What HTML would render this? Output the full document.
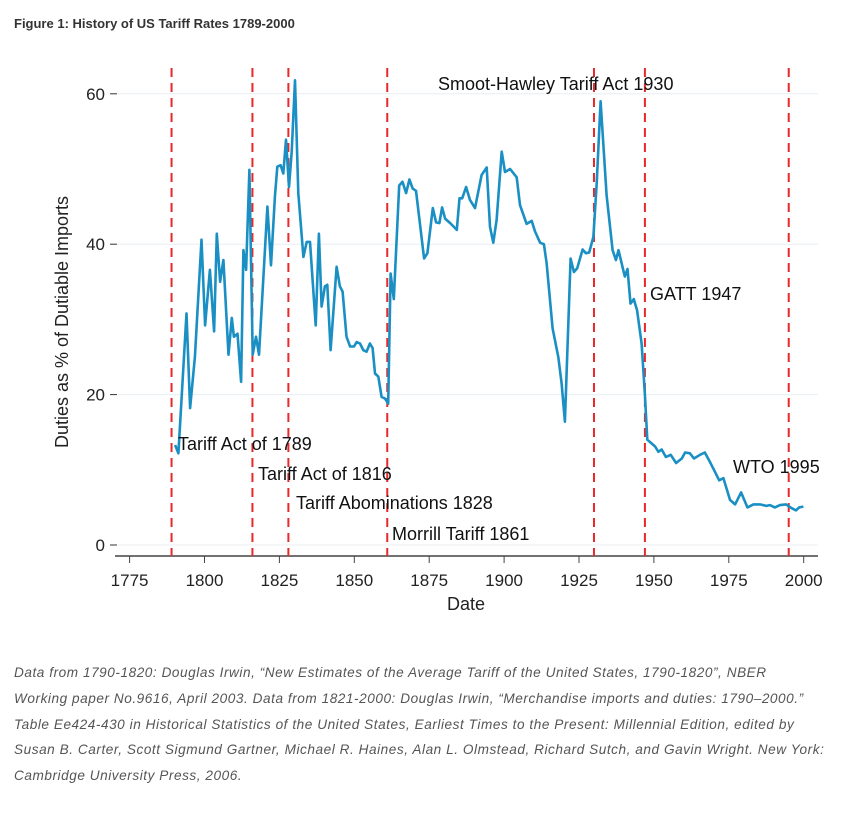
<!DOCTYPE html>
<html><head><meta charset="utf-8"><style>
body{margin:0;background:#fff;width:858px;height:813px;overflow:hidden;font-family:"Liberation Sans",sans-serif}
#title{position:absolute;left:14px;top:16px;font-size:13px;font-weight:bold;color:#333}
#note{position:absolute;left:14px;top:660px;font-size:13.6px;font-style:italic;color:#555;line-height:25.8px;letter-spacing:0.55px;white-space:nowrap}
svg{position:absolute;left:0;top:0}
</style></head><body>
<div id="title">Figure 1: History of US Tariff Rates 1789-2000</div>
<svg id="chart" width="858" height="650"></svg>
<div id="note">Data from 1790-1820: Douglas Irwin, “New Estimates of the Average Tariff of the United States, 1790-1820”, NBER<br>Working paper No.9616, April 2003. Data from 1821-2000: Douglas Irwin, “Merchandise imports and duties: 1790–2000.”<br>Table Ee424-430 in Historical Statistics of the United States, Earliest Times to the Present: Millennial Edition, edited by<br>Susan B. Carter, Scott Sigmund Gartner, Michael R. Haines, Alan L. Olmstead, Richard Sutch, and Gavin Wright. New York:<br>Cambridge University Press, 2006.</div>
<script>
const years=[1790.2,1791.3,1794,1795.2,1796.8,1799,1800.2,1801.8,1803.2,1804.1,1805.2,1806.3,1808,1809.1,1809.8,1811,1812.2,1813,1813.9,1815,1816.1,1817.2,1818.2,1821,1822.2,1823.5,1824.3,1825.4,1826.3,1827.2,1828.2,1829.1,1830.2,1831.3,1833,1834.1,1835.2,1837.1,1838.2,1839.1,1840.2,1841,1842.1,1844.1,1845.2,1846.1,1847.4,1848.6,1849.9,1850.8,1851.9,1853,1854.1,1855.2,1856.1,1856.9,1858,1859.1,1860.2,1861.3,1862.1,1863.2,1865,1866.1,1867.3,1868.4,1869.5,1870.6,1873.3,1874.4,1876.2,1877.3,1878.4,1879.3,1880.3,1882,1884.2,1885.1,1886,1887.3,1888.6,1890.3,1892.5,1894.2,1895.3,1896.4,1897.5,1899.2,1900.3,1902,1904.2,1905.3,1907.5,1909.2,1910.3,1912,1913.3,1914.2,1916.2,1918.1,1919.2,1920.3,1922.2,1923.3,1924.4,1926.2,1927.3,1928.4,1929.8,1930.9,1932.2,1934.2,1936.2,1937.3,1938.2,1940.3,1941.2,1942.2,1943.3,1944.4,1945.9,1947,1947.8,1950.4,1951.5,1952.6,1954,1955.6,1957.4,1959.3,1960.4,1962,1963.4,1965.4,1967,1968.5,1969.8,1971.8,1973.2,1975.4,1977.1,1979.1,1981.2,1983.2,1985.4,1987.6,1988.7,1990.4,1992.1,1994.1,1996,1997.4,1998.5,1999.9];
const rates=[13.3,12.2,30.8,18.2,25,40.6,29.2,36.6,28.4,41.4,35,37.9,25.3,30.2,27.7,28.1,21.7,39.2,36.6,49.9,25.3,27.7,25.3,45,37.2,46.3,50.3,50.5,49.4,53.9,47.6,52.3,61.8,46.8,38.3,40.3,40.3,29.2,41.4,31.7,34.4,34.6,25.9,37,34.4,33.7,27.7,26.4,26.4,27,26.8,25.9,25.7,26.8,26.2,22.8,22.4,19.7,19.5,18.8,36.1,32.7,47.8,48.3,46.8,48.6,47.4,47.1,38.1,38.8,44.8,42.9,42.8,44.9,43.4,42.8,41.9,46.1,46.1,47.6,45.9,44.8,49.2,50.2,42.3,40.2,43.2,52.3,49.6,50,48.9,45.2,42.7,43.1,41.7,40.2,40,37.5,28.8,25,21.5,16.4,38.1,36.3,36.8,39.3,38.8,38.9,41,48.1,59,46.5,39.2,37.9,39.2,35.7,36.7,32.1,32.7,31.2,26.8,20,14,13.1,12.4,12.7,11.7,12,10.9,11.5,12.3,12.2,11.5,12,12.3,11.2,10.2,8.6,8.9,6,5.4,7,5,5.4,5.4,5.2,5.3,5,5.3,5.4,4.9,4.6,5,5.1];
const xTicks=[1775,1800,1825,1850,1875,1900,1925,1950,1975,2000];
const yTicks=[0,20,40,60];
const eventYears=[1789,1816,1828,1861,1930,1947,1995];
const eventLabels=["Tariff Act of 1789","Tariff Act of 1816","Tariff Abominations 1828","Morrill Tariff 1861","Smoot-Hawley Tariff Act 1930","GATT 1947","WTO 1995"];
const labelPos=[[178,450],[258,480],[296,509],[392,540],[438,90],[650,300],[733,473]];
const X=y=>129.6+(y-1775)*2.996, Y=v=>545-v*7.52;
const svg=document.getElementById('chart'),NS='http://www.w3.org/2000/svg';
function mk(t,a,p){const e=document.createElementNS(NS,t);for(const k in a)e.setAttribute(k,a[k]);(p||svg).appendChild(e);return e;}
yTicks.forEach(v=>{
 const g=mk('line',{x1:118,x2:818,y1:Y(v),y2:Y(v),stroke:'#e8eef2','stroke-width':1});
 
 
 const tk=mk('line',{x1:110,x2:117,y1:Y(v),y2:Y(v),stroke:'#333','stroke-width':1});
 
 
 const t=mk('text',{x:105,y:Y(v)+6,'text-anchor':'end','font-size':17,fill:'#222'});t.textContent=v;
 
 
});
const ax=mk('line',{x1:115,x2:818,y1:556,y2:556,stroke:'#444','stroke-width':1.5});


xTicks.forEach(yr=>{
 const tk=mk('line',{x1:X(yr),x2:X(yr),y1:556,y2:563,stroke:'#444','stroke-width':1});
 
 
 const t=mk('text',{x:X(yr),y:586,'text-anchor':'middle','font-size':17,fill:'#222'});t.textContent=yr;
 
 
});
const xt=mk('text',{x:466,y:610,'text-anchor':'middle','font-size':18,fill:'#222'});xt.textContent='Date';


const yt=mk('text',{x:0,y:0,'text-anchor':'middle','font-size':18,fill:'#222',transform:'translate(68,322) rotate(-90)'});yt.textContent='Duties as % of Dutiable Imports';


eventYears.forEach((yr,i)=>{
 const l=mk('line',{x1:X(yr),x2:X(yr),y1:68,y2:556,stroke:'#e8282b','stroke-width':2,'stroke-dasharray':'9,6'});
 
 
});
let d='';years.forEach((yr,i)=>{d+=(i?'L':'M')+X(yr).toFixed(1)+','+Y(rates[i]).toFixed(1);});
const p=mk('path',{d:d,fill:'none',stroke:'#1a8fc3','stroke-width':2.6,'stroke-linejoin':'round'});


eventLabels.forEach((s,i)=>{
 const t=mk('text',{x:labelPos[i][0],y:labelPos[i][1],'font-size':18,fill:'#111'});t.textContent=s;
 
 
});
</script>
</body></html>
